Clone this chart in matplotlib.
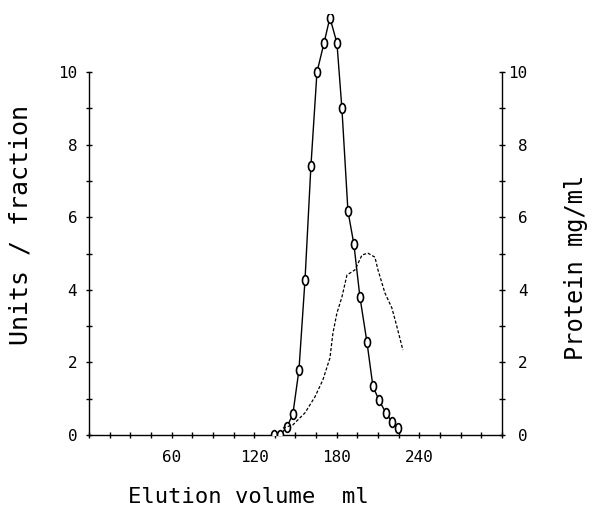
import numpy as np
import matplotlib
matplotlib.use('Agg')
import matplotlib.pyplot as plt
from matplotlib.path import Path
from matplotlib.ticker import MultipleLocator, FixedLocator

# enzyme activity (units / fraction)
vol_units = [134.4, 138.7, 143.8, 148.1, 152.5, 156.9, 161.2, 165.6, 170.7, 175.0,
             180.1, 183.7, 188.1, 192.4, 196.8, 201.9, 206.2, 210.6, 215.7, 220.0, 224.4]
units = [0.0, 0.0, 0.22, 0.58, 1.79, 4.27, 7.41, 10.0, 10.8, 11.5,
         10.8, 9.0, 6.17, 5.26, 3.80, 2.56, 1.35, 0.96, 0.61, 0.36, 0.19]

# protein (mg/ml)
vol_prot = [140.9, 148.1, 156.9, 164.1, 169.9, 175.0, 177.2, 180.1, 183.7, 187.4,
            193.2, 198.3, 202.6, 207.7, 209.9, 215.0, 220.0, 223.7, 228.0]
protein = [0.19, 0.28, 0.61, 1.05, 1.52, 2.12, 2.81, 3.36, 3.80, 4.41,
           4.55, 4.96, 5.01, 4.90, 4.55, 3.91, 3.50, 2.98, 2.34]

x_labels = [60, 120, 180, 240]
y_labels = [0, 2, 4, 6, 8, 10]

font = 'DejaVu Sans Mono'

# upright oval marker, like the plotter's symbol
circ = Path.unit_circle()
oval = Path(circ.vertices * np.array([0.62, 1.0]), circ.codes)

fig = plt.figure(figsize=(5.92, 5.08), dpi=100)
ax = fig.add_axes([0.1503, 0.1437, 0.6977, 0.8287])
ax2 = ax.twinx()

ax.plot(vol_units, units, color='black', lw=1.0, marker=oval, ms=7,
        mfc='white', mec='black', mew=1.2, zorder=3)
ax2.plot(vol_prot, protein, color='black', lw=0.9, ls=(0, (2.5, 1.5)))

for a in (ax, ax2):
    a.set_xlim(0, 300)
    a.set_ylim(0, 11.6)
    a.spines['top'].set_visible(False)
    a.spines['left'].set_bounds(0, 10)
    a.spines['right'].set_bounds(0, 10)
    for s in a.spines.values():
        s.set_linewidth(1.0)

ax.spines['right'].set_visible(False)
ax2.spines['left'].set_visible(False)
ax2.spines['bottom'].set_visible(False)

ax.xaxis.set_major_locator(FixedLocator(x_labels))
ax.xaxis.set_minor_locator(MultipleLocator(15))
ax.yaxis.set_major_locator(FixedLocator(y_labels))
ax.yaxis.set_minor_locator(FixedLocator([1, 3, 5, 7, 9]))
ax2.yaxis.set_major_locator(FixedLocator(y_labels))
ax2.yaxis.set_minor_locator(FixedLocator([1, 3, 5, 7, 9]))

ax.tick_params(axis='both', which='both', direction='inout', length=5, width=1.0,
               labelsize=11.5)
ax.tick_params(axis='y', pad=6)
ax.tick_params(axis='x', pad=8)
ax2.tick_params(axis='y', which='both', direction='inout', length=5, width=1.0,
                labelsize=11.5, pad=16)
for lab in ax.get_xticklabels() + ax.get_yticklabels():
    lab.set_family(font)
for lab in ax2.get_yticklabels():
    lab.set_family(font)
    lab.set_ha('right')

ax.set_xlabel('Elution volume  ml', family=font, fontsize=16)
ax.set_ylabel('Units / fraction', family=font, fontsize=18)
ax2.set_ylabel('Protein mg/ml', family=font, fontsize=17)
ax.xaxis.set_label_coords(0.387, -0.147)
ax.yaxis.set_label_coords(-0.165, 0.5)
ax2.yaxis.set_label_coords(1.179, 0.397)
ax.xaxis.label.set_va('center')
ax.yaxis.label.set_va('center')
ax2.yaxis.label.set_va('center')

fig.savefig('out.png', dpi=100)
